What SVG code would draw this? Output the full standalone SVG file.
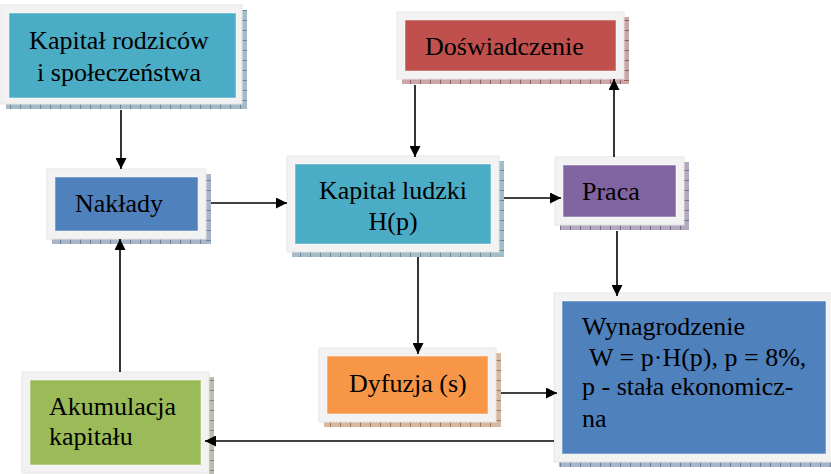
<svg xmlns="http://www.w3.org/2000/svg" width="831" height="474" viewBox="0 0 831 474">
<style>
.frame{fill:#f2f2f2;stroke:#e6e6e6;stroke-width:1}
.t{font-family:"Liberation Serif","Times New Roman",serif;font-size:26px;fill:#000}
.c{stroke:#000;stroke-width:1.6;fill:none;marker-end:url(#ah)}
.in{stroke-width:1;stroke:rgba(255,255,255,0.5)}
</style>
<defs>
<marker id="ah" viewBox="0 0 10 10" refX="10" refY="5" markerWidth="12" markerHeight="11" markerUnits="userSpaceOnUse" orient="auto"><path d="M0 0L10 5L0 10z" fill="#000"/></marker>
<pattern id="vCyan" width="10" height="10" patternUnits="userSpaceOnUse"><rect width="10" height="10" fill="#a4bcc7"/><path d="M0.5 0V10" stroke="#6f8898"/></pattern>
<pattern id="hCyan" width="10" height="10" patternUnits="userSpaceOnUse"><rect width="10" height="10" fill="#a4bcc7"/><path d="M0 0.5H10" stroke="#6f8898"/></pattern>
<pattern id="vBlue" width="10" height="10" patternUnits="userSpaceOnUse"><rect width="10" height="10" fill="#a8b4c8"/><path d="M0.5 0V10" stroke="#6f7f99"/></pattern>
<pattern id="hBlue" width="10" height="10" patternUnits="userSpaceOnUse"><rect width="10" height="10" fill="#a8b4c8"/><path d="M0 0.5H10" stroke="#6f7f99"/></pattern>
<pattern id="vRed" width="10" height="10" patternUnits="userSpaceOnUse"><rect width="10" height="10" fill="#cba6a6"/><path d="M0.5 0V10" stroke="#8d5f5f"/></pattern>
<pattern id="hRed" width="10" height="10" patternUnits="userSpaceOnUse"><rect width="10" height="10" fill="#cba6a6"/><path d="M0 0.5H10" stroke="#8d5f5f"/></pattern>
<pattern id="vPurple" width="10" height="10" patternUnits="userSpaceOnUse"><rect width="10" height="10" fill="#b3a9bf"/><path d="M0.5 0V10" stroke="#7a6e8a"/></pattern>
<pattern id="hPurple" width="10" height="10" patternUnits="userSpaceOnUse"><rect width="10" height="10" fill="#b3a9bf"/><path d="M0 0.5H10" stroke="#7a6e8a"/></pattern>
<pattern id="vOrange" width="10" height="10" patternUnits="userSpaceOnUse"><rect width="10" height="10" fill="#d8b9a0"/><path d="M0.5 0V10" stroke="#a07a58"/></pattern>
<pattern id="hOrange" width="10" height="10" patternUnits="userSpaceOnUse"><rect width="10" height="10" fill="#d8b9a0"/><path d="M0 0.5H10" stroke="#a07a58"/></pattern>
<pattern id="vGreen" width="10" height="10" patternUnits="userSpaceOnUse"><rect width="10" height="10" fill="#b8bfaa"/><path d="M0.5 0V10" stroke="#7f8a6a"/></pattern>
<pattern id="hGreen" width="10" height="10" patternUnits="userSpaceOnUse"><rect width="10" height="10" fill="#b8bfaa"/><path d="M0 0.5H10" stroke="#7f8a6a"/></pattern>
</defs>
<rect width="831" height="474" fill="#fff"/>

<g id="kapital-rodzicow">
<rect x="6" y="104" width="241" height="5" fill="url(#vCyan)"/>
<rect x="242" y="10" width="5" height="99" fill="url(#hCyan)"/>
<rect class="frame" x="1" y="5" width="241" height="99"/>
<rect class="in" x="9" y="13" width="227" height="85" fill="#4bacc6"/>
<text class="t" x="119" y="49" text-anchor="middle">Kapitał rodziców</text>
<text class="t" x="119" y="81" text-anchor="middle">i społeczeństwa</text>
</g>

<g id="doswiadczenie">
<rect x="402" y="79" width="227" height="5" fill="url(#vRed)"/>
<rect x="624" y="17" width="5" height="67" fill="url(#hRed)"/>
<rect class="frame" x="397" y="12" width="227" height="67"/>
<rect class="in" x="405" y="20" width="211" height="51" fill="#c0504d"/>
<text class="t" x="425" y="55">Doświadczenie</text>
</g>

<g id="naklady">
<rect x="52" y="239" width="159" height="5" fill="url(#vBlue)"/>
<rect x="206" y="174" width="5" height="70" fill="url(#hBlue)"/>
<rect class="frame" x="47" y="169" width="159" height="70"/>
<rect class="in" x="55" y="177" width="143" height="54" fill="#4f81bd"/>
<text class="t" x="75" y="212">Nakłady</text>
</g>

<g id="kapital-ludzki">
<rect x="292" y="252" width="212" height="5" fill="url(#vCyan)"/>
<rect x="499" y="161" width="5" height="96" fill="url(#hCyan)"/>
<rect class="frame" x="287" y="156" width="212" height="96"/>
<rect class="in" x="295" y="164" width="196" height="80" fill="#4bacc6"/>
<text class="t" x="393" y="199" text-anchor="middle">Kapitał ludzki</text>
<text class="t" x="393" y="230" text-anchor="middle">H(p)</text>
</g>

<g id="praca">
<rect x="560" y="225" width="129" height="5" fill="url(#vPurple)"/>
<rect x="684" y="162" width="5" height="68" fill="url(#hPurple)"/>
<rect class="frame" x="555" y="157" width="129" height="68"/>
<rect class="in" x="563" y="165" width="113" height="52" fill="#8064a2"/>
<text class="t" x="582" y="200">Praca</text>
</g>

<g id="wynagrodzenie">
<rect x="559" y="462" width="280" height="5" fill="url(#vBlue)"/>
<rect class="frame" x="554" y="293" width="280" height="169"/>
<rect class="in" x="562" y="301" width="264" height="153" fill="#4f81bd"/>
<text class="t" x="582" y="335">Wynagrodzenie</text>
<text class="t" x="589" y="366">W = p·H(p), p = 8%,</text>
<text class="t" x="582" y="395">p - stała ekonomicz-</text>
<text class="t" x="582" y="427">na</text>
</g>

<g id="dyfuzja">
<rect x="324" y="422" width="177" height="5" fill="url(#vOrange)"/>
<rect x="496" y="353" width="5" height="74" fill="url(#hOrange)"/>
<rect class="frame" x="319" y="348" width="177" height="74"/>
<rect class="in" x="327" y="356" width="161" height="58" fill="#f79646"/>
<text class="t" x="349" y="392">Dyfuzja (s)</text>
</g>

<g id="akumulacja">
<rect x="209" y="377" width="5" height="101" fill="url(#hGreen)"/>
<rect class="frame" x="22" y="372" width="187" height="101"/>
<rect class="in" x="30" y="380" width="171" height="85" fill="#9bbb59"/>
<text class="t" x="49" y="415">Akumulacja</text>
<text class="t" x="49" y="445">kapitału</text>
</g>

<g id="connectors">
<path class="c" d="M121 110V169"/>
<path class="c" d="M211 203H287"/>
<path class="c" d="M120 372V239"/>
<path class="c" d="M415 85V157"/>
<path class="c" d="M504 198H561"/>
<path class="c" d="M614 157V79"/>
<path class="c" d="M617 231V296"/>
<path class="c" d="M418 257V354"/>
<path class="c" d="M501 393H557"/>
<path class="c" d="M554 441H205"/>
</g>
</svg>
